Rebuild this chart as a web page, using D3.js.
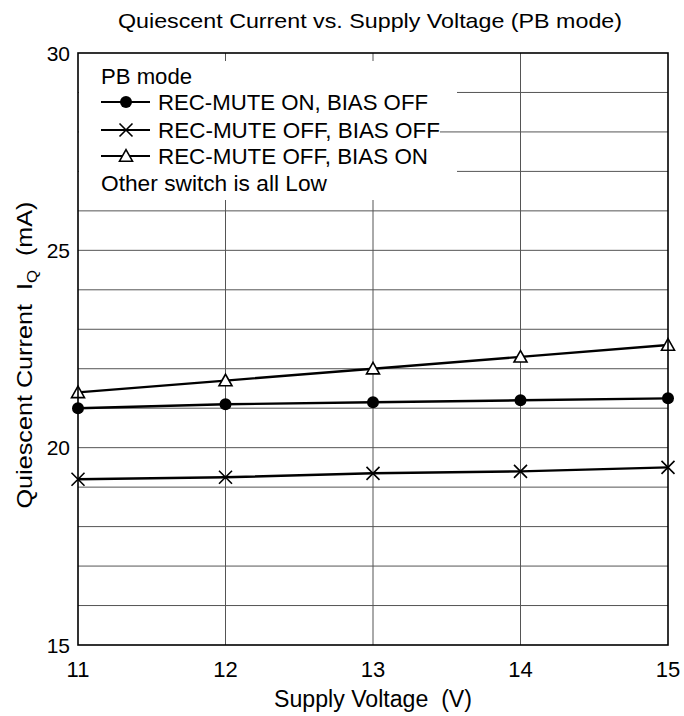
<!DOCTYPE html>
<html>
<head>
<meta charset="utf-8">
<script src="https://cdn.jsdelivr.net/npm/d3@7"></script>
<style>
  html, body { margin: 0; padding: 0; background: #fff; }
  svg text { font-family: "Liberation Sans", Arial, sans-serif; fill: #000; white-space: pre; }
</style>
</head>
<body>
<svg id="chart" width="684" height="716"></svg>
<script>
const voltages = [11, 12, 13, 14, 15];
const recMuteOnBiasOff = [21.0, 21.1, 21.15, 21.2, 21.25];
const recMuteOffBiasOff = [19.2, 19.25, 19.35, 19.4, 19.5];
const recMuteOffBiasOn = [21.4, 21.7, 22.0, 22.3, 22.6];
const xTickLabels = [11, 12, 13, 14, 15];
const yTickLabels = [15, 20, 25, 30];
const seriesNames = ["REC-MUTE ON, BIAS OFF", "REC-MUTE OFF, BIAS OFF", "REC-MUTE OFF, BIAS ON"];
const seriesMarkers = ["circle", "cross", "triangle"];
const titleText = "Quiescent Current vs. Supply Voltage (PB mode)";
const xTitle = "Supply Voltage  (V)";
const legendHeader = "PB mode";
const legendFooter = "Other switch is all Low";

const series = [recMuteOnBiasOff, recMuteOffBiasOff, recMuteOffBiasOn].map((vals, i) => ({
  name: seriesNames[i], marker: seriesMarkers[i],
  points: voltages.map((v, j) => ({ x: v, y: vals[j] }))
}));

const svg = d3.select("#chart");
const L = 78, R = 668, T = 53, B = 645;
const x = d3.scaleLinear().domain([11, 15]).range([L, R]);
const y = d3.scaleLinear().domain([15, 30]).range([B, T]);

// grid
const g = svg.append("g");
g.selectAll(".hg").data(d3.range(16, 30)).join("line")
  .attr("x1", L).attr("x2", R).attr("y1", d => y(d)).attr("y2", d => y(d))
  .attr("stroke", "#555").attr("stroke-width", 1);
g.selectAll(".vg").data(xTickLabels.slice(1, -1)).join("line")
  .attr("x1", d => x(d)).attr("x2", d => x(d)).attr("y1", T).attr("y2", B)
  .attr("stroke", "#555").attr("stroke-width", 1);

// legend background
svg.append("rect").attr("x", L + 1).attr("y", 61).attr("width", 440 - L - 1).attr("height", 139).attr("fill", "#fff");
svg.append("rect").attr("x", 440).attr("y", 61).attr("width", 17).attr("height", 67).attr("fill", "#fff");
svg.append("rect").attr("x", 440).attr("y", 134).attr("width", 17).attr("height", 66).attr("fill", "#fff");

function drawMarker(sel, type, cx, cy) {
  if (type === "circle") {
    sel.append("circle").attr("cx", cx).attr("cy", cy).attr("r", 6).attr("fill", "#000");
  } else if (type === "cross") {
    const s = 6.5;
    sel.append("path").attr("d", `M${cx - s},${cy - s}L${cx + s},${cy + s}M${cx - s},${cy + s}L${cx + s},${cy - s}`)
      .attr("stroke", "#000").attr("stroke-width", 1.6).attr("fill", "none");
  } else {
    const w = 6.5, h = 11.5;
    sel.append("path").attr("d", `M${cx},${cy - h * 0.55}L${cx + w},${cy + h * 0.45}L${cx - w},${cy + h * 0.45}Z`)
      .attr("stroke", "#000").attr("stroke-width", 1.6).attr("fill", "#fff");
  }
}

// legend
const lg = svg.append("g");
lg.append("text").attr("x", 101).attr("y", 83.5).attr("font-size", 22)
  .attr("textLength", 91).attr("lengthAdjust", "spacingAndGlyphs").text(legendHeader);
const rowY = [102, 130, 156];
const rowLen = [270, 282, 270];
series.forEach((s, i) => {
  lg.append("line").attr("x1", 101).attr("x2", 150).attr("y1", rowY[i]).attr("y2", rowY[i])
    .attr("stroke", "#000").attr("stroke-width", 2.2);
  drawMarker(lg, s.marker, 126, rowY[i]);
  lg.append("text").attr("x", 158).attr("y", rowY[i] + 7.8).attr("font-size", 22)
    .attr("textLength", rowLen[i]).attr("lengthAdjust", "spacingAndGlyphs").text(s.name);
});
lg.append("text").attr("x", 101).attr("y", 190.5).attr("font-size", 22)
  .attr("textLength", 226).attr("lengthAdjust", "spacingAndGlyphs").text(legendFooter);

// data
const line = d3.line().x(d => x(d.x)).y(d => y(d.y));
series.forEach(s => {
  svg.append("path").datum(s.points).attr("d", line)
    .attr("fill", "none").attr("stroke", "#000").attr("stroke-width", 2.4);
});
series.forEach(s => {
  const mg = svg.append("g");
  s.points.forEach(p => drawMarker(mg, s.marker, x(p.x), y(p.y)));
});

// frame
svg.append("rect").attr("x", L).attr("y", T).attr("width", R - L).attr("height", B - T)
  .attr("fill", "none").attr("stroke", "#000").attr("stroke-width", 1.6);

// axes labels
svg.append("g").selectAll("text").data(xTickLabels).join("text")
  .attr("x", d => x(d)).attr("y", 677).attr("text-anchor", "middle").attr("font-size", 22).text(d => d);
svg.append("g").selectAll("text").data(yTickLabels).join("text")
  .attr("x", 70).attr("y", d => y(d)).attr("dy", "0.36em").attr("text-anchor", "end").attr("font-size", 21).text(d => d);

svg.append("text").attr("x", 373).attr("y", 707).attr("text-anchor", "middle").attr("font-size", 23)
  .attr("textLength", 198).attr("lengthAdjust", "spacingAndGlyphs").text(xTitle);
svg.append("text").attr("x", 370).attr("y", 28).attr("text-anchor", "middle").attr("font-size", 21)
  .attr("textLength", 504).attr("lengthAdjust", "spacingAndGlyphs").text(titleText);

const yt = svg.append("text").attr("transform", "translate(32,355) rotate(-90) scale(1.12,1)").attr("text-anchor", "middle").attr("font-size", 22.5);
yt.append("tspan").text("Quiescent Current  I");
yt.append("tspan").attr("font-size", 15).attr("dy", 5).text("Q");
yt.append("tspan").attr("dy", -5).text("  (mA)");
</script>
</body>
</html>
